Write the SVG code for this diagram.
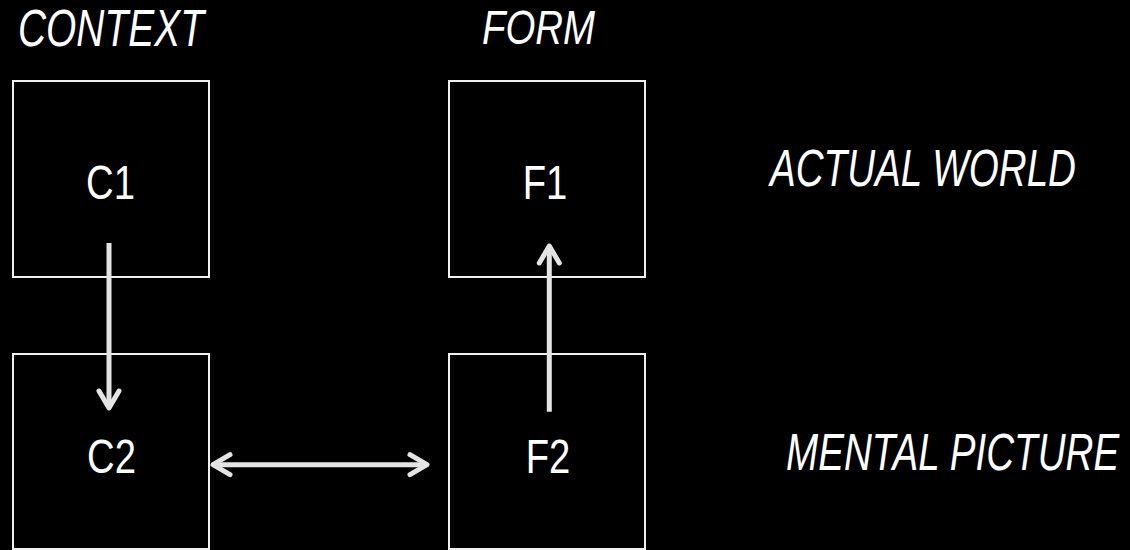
<svg xmlns="http://www.w3.org/2000/svg" width="1130" height="550" viewBox="0 0 1130 550">
  <style>
    .box { fill: #000000; stroke: #f0f0f0; stroke-width: 2; }
    .lbl { font-family: "Liberation Sans", Arial, sans-serif; font-size: 49px; fill: #ffffff; }
    .hdr { font-family: "Liberation Sans", Arial, sans-serif; font-size: 51px; font-style: italic; fill: #ffffff; }
    .link { fill: none; stroke: #e4e4e4; stroke-width: 5; stroke-linecap: butt; }
  </style>
  <defs>
    <marker id="chev" markerUnits="userSpaceOnUse" viewBox="-24 -16 30 32" markerWidth="30" markerHeight="32" refX="0" refY="0" orient="auto-start-reverse" overflow="visible">
      <path d="M-17,-10 L0,0 L-17,10" fill="none" stroke="#e4e4e4" stroke-width="5" stroke-linecap="round" stroke-linejoin="round"/>
    </marker>
  </defs>

  <rect x="0" y="0" width="1130" height="550" fill="#000000"/>

  <!-- column and row headings, set in a condensed italic -->
  <g id="headings">
    <text class="hdr" transform="translate(18,46) scale(0.763,1)">CONTEXT</text>
    <text class="hdr" style="font-size:48px" transform="translate(482,44) scale(0.8,1)">FORM</text>
    <text class="hdr" transform="translate(770,186) scale(0.757,1)">ACTUAL WORLD</text>
    <text class="hdr" transform="translate(786,469.5) scale(0.757,1)">MENTAL PICTURE</text>
  </g>

  <g id="C1">
    <rect class="box" x="13" y="81" width="196" height="196"/>
    <text class="lbl" text-anchor="middle" transform="translate(110.5,198.5) scale(0.78,1)">C1</text>
  </g>
  <g id="F1">
    <rect class="box" x="449" y="81" width="196" height="196"/>
    <text class="lbl" text-anchor="middle" transform="translate(545,198.5) scale(0.78,1)">F1</text>
  </g>
  <g id="C2">
    <rect class="box" x="13" y="354" width="196" height="195"/>
    <text class="lbl" text-anchor="middle" transform="translate(111.5,472.5) scale(0.78,1)">C2</text>
  </g>
  <g id="F2">
    <rect class="box" x="449" y="354" width="196" height="195"/>
    <text class="lbl" text-anchor="middle" transform="translate(548,472.5) scale(0.78,1)">F2</text>
  </g>

  <!-- connectors -->
  <g id="connectors">
    <line class="link" x1="109" y1="243" x2="109" y2="408" marker-end="url(#chev)"/>
    <line class="link" x1="549.3" y1="411.7" x2="549.3" y2="246" marker-end="url(#chev)"/>
    <line class="link" x1="213" y1="464.7" x2="427" y2="464.7" marker-start="url(#chev)" marker-end="url(#chev)"/>
  </g>
</svg>
